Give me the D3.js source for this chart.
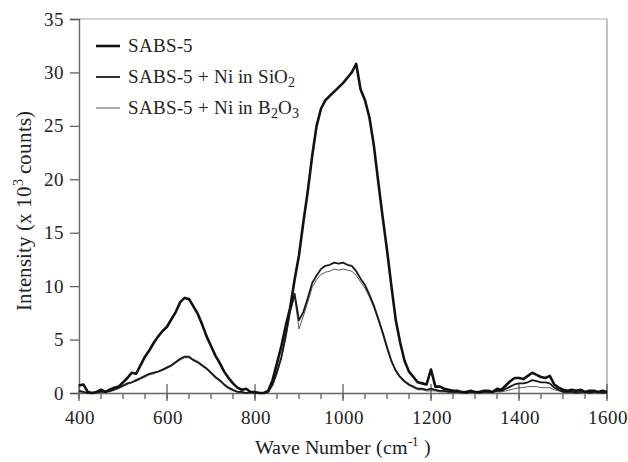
<!DOCTYPE html>
<html>
<head>
<meta charset="utf-8">
<script src="https://cdn.jsdelivr.net/npm/d3@7"></script>
<style>
  @font-face { font-family: "ChartSerif"; src: local("Liberation Serif"), local("LiberationSerif"), local("LiberationSerif-Regular"), local("Times New Roman"), local("DejaVu Serif"), local("DejaVuSerif"); }
  body { margin: 0; background: #fff; }
  svg text { font-family: "ChartSerif", "Liberation Serif", "DejaVu Serif", serif !important; fill: #222; }
</style>
</head>
<body>
<div id="chart"></div>
<script>
// wave numbers, step 10 cm-1
var waveNumbers = d3.range(400, 1601, 10)

// intensities (x 10^3 counts)
var sabs5 = [
  0.7, 0.8, 0.1, 0.0, 0.1, 0.3, 0.1, 0.3, 0.5, 0.6,   // 400-490
  1.0, 1.4, 1.9, 1.8, 2.6, 3.4, 4.0, 4.7, 5.3, 5.8,   // 500-590
  6.2, 6.9, 7.6, 8.5, 8.9, 8.8, 8.1, 7.4, 6.4, 5.3,   // 600-690
  4.4, 3.5, 2.8, 2.0, 1.4, 0.9, 0.5, 0.3, 0.4, 0.1,   // 700-790
  0.1, 0.0, 0.0, 0.2, 1.2, 2.8, 4.4, 6.3, 8.0, 10.6,  // 800-890
  12.9, 16.0, 18.9, 22.2, 25.0, 26.6, 27.4, 27.8, 28.2, 28.6, // 900-990
  29.0, 29.5, 30.0, 30.8, 28.4, 27.4, 25.8, 23.2, 19.8, 16.5, // 1000-1090
  13.4, 10.0, 6.8, 4.7, 3.0, 2.0, 1.5, 1.0, 0.9, 0.8, // 1100-1190
  2.2, 0.6, 0.6, 0.4, 0.3, 0.2, 0.2, 0.1, 0.1, 0.2,   // 1200-1290
  0.1, 0.1, 0.2, 0.2, 0.1, 0.4, 0.3, 0.7, 1.1, 1.4,   // 1300-1390
  1.4, 1.3, 1.6, 1.9, 1.7, 1.5, 1.4, 1.6, 0.8, 0.5,   // 1400-1490
  0.3, 0.2, 0.3, 0.2, 0.3, 0.1, 0.2, 0.2, 0.1, 0.2,   // 1500-1590
  0.1                                                  // 1600
]

var sabs5NiSiO2 = [
  0.2, 0.1, 0.0, 0.0, 0.1, 0.1, 0.1, 0.2, 0.3, 0.5,
  0.7, 0.9, 1.0, 1.2, 1.4, 1.6, 1.8, 1.9, 2.0, 2.2,
  2.4, 2.6, 2.9, 3.2, 3.4, 3.4, 3.1, 2.9, 2.6, 2.3,
  1.9, 1.5, 1.2, 0.8, 0.5, 0.3, 0.1, 0.1, 0.0, 0.1,
  0.0, 0.0, 0.0, 0.1, 0.8, 2.0, 3.4, 5.4, 7.8, 9.3,
  6.8, 7.6, 8.9, 10.3, 11.0, 11.6, 11.9, 12.0, 12.2, 12.1,
  12.2, 12.0, 11.9, 11.4, 10.7, 10.1, 9.2, 8.2, 7.0, 5.7,
  4.3, 3.0, 2.1, 1.5, 1.1, 0.8, 0.6, 0.4, 0.4, 0.3,
  0.4, 0.3, 0.2, 0.2, 0.1, 0.1, 0.1, 0.1, 0.0, 0.1,
  0.1, 0.0, 0.1, 0.1, 0.1, 0.2, 0.2, 0.4, 0.6, 0.8,
  0.9, 0.9, 1.0, 1.2, 1.1, 1.0, 1.0, 0.9, 0.5, 0.3,
  0.1, 0.1, 0.1, 0.0, 0.1, 0.1, 0.0, 0.1, 0.1, 0.0,
  0.1
]

var sabs5NiB2O3 = [
  0.1, 0.1, 0.0, 0.0, 0.0, 0.1, 0.1, 0.1, 0.3, 0.4,
  0.6, 0.8, 1.0, 1.1, 1.3, 1.5, 1.7, 1.8, 2.0, 2.1,
  2.3, 2.5, 2.8, 3.1, 3.3, 3.3, 3.0, 2.8, 2.5, 2.2,
  1.8, 1.4, 1.1, 0.7, 0.4, 0.2, 0.1, 0.0, 0.0, 0.0,
  0.0, 0.0, 0.0, 0.1, 0.7, 1.8, 3.2, 5.1, 7.5, 9.0,
  6.0, 7.2, 8.5, 9.9, 10.6, 11.1, 11.3, 11.4, 11.6, 11.5,
  11.6, 11.5, 11.4, 11.0, 10.4, 9.8, 9.0, 8.0, 6.8, 5.5,
  4.1, 2.9, 2.0, 1.4, 1.0, 0.7, 0.5, 0.3, 0.3, 0.2,
  0.2, 0.2, 0.1, 0.1, 0.1, 0.0, 0.1, 0.0, 0.0, 0.1,
  0.0, 0.0, 0.1, 0.0, 0.1, 0.1, 0.1, 0.2, 0.3, 0.4,
  0.5, 0.5, 0.6, 0.6, 0.6, 0.5, 0.5, 0.5, 0.3, 0.2,
  0.1, 0.0, 0.1, 0.0, 0.0, 0.1, 0.0, 0.0, 0.1, 0.0,
  0.0
]

var xTicks = [400, 600, 800, 1000, 1200, 1400, 1600]
var yTicks = [0, 5, 10, 15, 20, 25, 30, 35]

var series = [
  { name: "SABS-5", sub: null, values: sabs5, width: 2.6, color: "#111" },
  { name: "SABS-5 + Ni in SiO", sub: "2", values: sabs5NiSiO2, width: 1.8, color: "#1a1a1a" },
  { name: "SABS-5 + Ni in B", sub: "2", tail: "O", sub2: "3", values: sabs5NiB2O3, width: 0.9, color: "#444" }
]

var width = 628
var height = 462
var margin = { top: 19, right: 21, bottom: 69, left: 79 }

var svg = d3.select("#chart").append("svg")
  .attr("width", width).attr("height", height)

var xScale = d3.scaleLinear().domain([400, 1600]).range([margin.left, width - margin.right])
var yScale = d3.scaleLinear().domain([0, 35]).range([height - margin.bottom, margin.top])

// frame: top and right lighter
svg.append("line")
  .attr("x1", xScale(400)).attr("x2", xScale(1600))
  .attr("y1", yScale(35)).attr("y2", yScale(35))
  .attr("stroke", "#aaa").attr("stroke-width", 1.2)
svg.append("line")
  .attr("x1", xScale(1600)).attr("x2", xScale(1600))
  .attr("y1", yScale(35)).attr("y2", yScale(0))
  .attr("stroke", "#999").attr("stroke-width", 1.2)

// minor x ticks every 50
svg.selectAll(".minor")
  .data(d3.range(400, 1601, 50))
  .enter().append("line")
  .attr("class", "minor")
  .attr("x1", function(d) { return xScale(d) }).attr("x2", function(d) { return xScale(d) })
  .attr("y1", yScale(0)).attr("y2", yScale(0) + 6)
  .attr("stroke", "#555").attr("stroke-width", 1.2)

// major x ticks cross the axis
svg.selectAll(".major")
  .data(xTicks)
  .enter().append("line")
  .attr("class", "major")
  .attr("x1", function(d) { return xScale(d) }).attr("x2", function(d) { return xScale(d) })
  .attr("y1", yScale(0) - 9).attr("y2", yScale(0) + 8)
  .attr("stroke", "#555").attr("stroke-width", 1.2)

var xAxis = svg.append("g")
  .attr("transform", "translate(0," + yScale(0) + ")")
  .call(d3.axisBottom(xScale).tickValues(xTicks).tickFormat(d3.format("d")).tickSize(0).tickPadding(18))
xAxis.select(".domain").attr("stroke", "#666").attr("stroke-width", 1.4)
xAxis.selectAll("text").attr("font-size", "19px").attr("fill", "#222")

var yAxis = svg.append("g")
  .attr("transform", "translate(" + xScale(400) + ",0)")
  .call(d3.axisLeft(yScale).tickValues(yTicks).tickSize(9).tickPadding(6))
yAxis.select(".domain").attr("stroke", "#666").attr("stroke-width", 1.4)
yAxis.selectAll("line").attr("stroke", "#555").attr("stroke-width", 1.2)
yAxis.selectAll("text").attr("font-size", "19px").attr("fill", "#222")

// curves
var line = d3.line()
  .x(function(d, i) { return xScale(waveNumbers[i]) })
  .y(function(d) { return yScale(d) })

// draw thin first so thick sits on top
series.slice().reverse().forEach(function(s) {
  svg.append("path")
    .datum(s.values)
    .attr("d", line)
    .attr("fill", "none")
    .attr("stroke", s.color)
    .attr("stroke-width", s.width)
    .attr("stroke-linejoin", "round")
})

// legend
var legend = svg.append("g")
series.forEach(function(s, i) {
  var y = 46 + i * 31
  legend.append("line")
    .attr("x1", 96).attr("x2", 120).attr("y1", y).attr("y2", y)
    .attr("stroke", s.color).attr("stroke-width", s.width)
  var t = legend.append("text")
    .attr("x", 128).attr("y", y + 6)
    .attr("font-size", "19px")
  t.append("tspan").text(s.name)
  if (s.sub) {
    t.append("tspan").attr("font-size", "14px").attr("dy", 4).text(s.sub)
  }
  if (s.tail) {
    t.append("tspan").attr("font-size", "19px").attr("dy", -4).text(s.tail)
    t.append("tspan").attr("font-size", "14px").attr("dy", 4).text(s.sub2)
  }
})

// axis titles
var xt = svg.append("text")
  .attr("x", (xScale(400) + xScale(1600)) / 2).attr("y", 454)
  .attr("text-anchor", "middle").attr("font-size", "20px")
xt.append("tspan").text("Wave Number (cm")
xt.append("tspan").attr("font-size", "13px").attr("dy", -8).text("-1")
xt.append("tspan").attr("dy", 8).text(" )")

var yt = svg.append("text")
  .attr("transform", "translate(31," + 211 + ") rotate(-90)")
  .attr("text-anchor", "middle").attr("font-size", "21px")
yt.append("tspan").text("Intensity (x 10")
yt.append("tspan").attr("font-size", "14px").attr("dy", -8).text("3")
yt.append("tspan").attr("dy", 8).text(" counts)")
</script>
</body>
</html>
